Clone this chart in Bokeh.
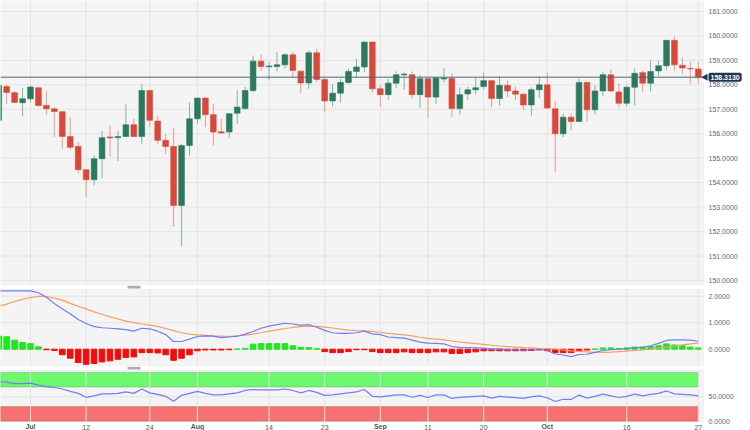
import math
from bokeh.plotting import figure
from bokeh.models import Range1d, BoxAnnotation, ColumnDataSource
from bokeh.core.properties import value
from bokeh.layouts import column
from bokeh.embed import file_html
from bokeh.resources import INLINE

# ---------------- data (daily candles, 27 Jun .. 27 Oct) ----------------
opens = [156.55, 157.93, 157.68, 157.27, 157.43, 157.88, 157.16, 157.02, 156.90, 155.89,
         155.48, 154.53, 154.12, 154.98, 155.87, 155.84, 155.89, 156.37, 155.89, 157.77,
         156.52, 155.73, 155.48, 153.07, 155.52, 156.61, 157.46, 156.78, 156.08, 156.07,
         156.84, 157.03, 157.77, 158.97, 158.74, 158.75, 158.82, 159.23, 158.56, 158.08,
         159.31, 158.22, 157.34, 157.66, 158.10, 158.55, 158.73, 159.75, 157.84, 157.60,
         158.07, 158.41, 158.41, 157.60, 158.25, 157.50, 158.24, 158.26, 157.03, 157.63,
         157.80, 157.93, 158.17, 157.44, 157.98, 157.75, 157.62, 157.18, 157.80, 158.00,
         157.02, 156.00, 156.68, 156.50, 158.10, 156.98, 157.75, 158.41, 157.71, 157.25,
         157.90, 158.50, 158.07, 158.57, 158.78, 159.82, 158.80, 158.67, 158.65]
highs = [158.05, 158.02, 157.75, 157.88, 157.98, 157.90, 157.74, 157.10, 156.92, 156.68,
         155.66, 154.55, 155.12, 156.11, 156.34, 156.13, 157.20, 156.61, 158.04, 157.79,
         156.75, 156.00, 156.25, 155.59, 157.29, 157.48, 157.50, 157.23, 156.61, 156.84,
         157.77, 157.91, 159.20, 159.25, 158.94, 159.34, 159.30, 159.36, 158.58, 159.41,
         159.48, 158.34, 158.04, 158.25, 158.66, 159.07, 159.76, 159.77, 158.00, 158.25,
         158.55, 158.50, 158.55, 158.41, 158.27, 158.32, 158.68, 158.47, 157.90, 157.93,
         158.30, 158.50, 158.19, 158.34, 158.18, 157.94, 157.64, 157.90, 158.34, 158.50,
         157.35, 156.82, 156.82, 158.25, 158.12, 158.00, 158.52, 158.64, 158.06, 157.97,
         158.67, 158.60, 158.99, 158.99, 159.84, 159.96, 159.12, 158.95, 158.94]
lows = [156.30, 157.23, 157.25, 156.71, 157.27, 157.10, 156.78, 155.86, 155.39, 155.35,
        154.37, 153.41, 153.89, 154.19, 155.05, 154.88, 155.87, 155.87, 155.59, 156.27,
        155.59, 155.18, 152.19, 151.40, 155.11, 156.40, 156.27, 155.52, 155.99, 155.82,
        156.40, 156.98, 157.70, 158.56, 158.20, 158.55, 158.67, 158.29, 157.66, 157.84,
        158.11, 156.89, 157.12, 157.28, 158.04, 158.29, 158.51, 157.69, 157.10, 157.40,
        157.86, 157.80, 157.42, 157.06, 156.65, 157.23, 158.10, 156.68, 156.78, 157.40,
        157.63, 157.80, 157.09, 157.15, 157.50, 157.38, 156.98, 156.74, 157.46, 157.03,
        154.42, 155.86, 156.14, 156.48, 156.50, 156.78, 157.55, 157.70, 157.09, 157.10,
        157.15, 157.71, 157.73, 158.37, 158.62, 158.59, 158.46, 158.06, 158.06]
closes = [157.98, 157.69, 157.28, 157.43, 157.91, 157.16, 157.02, 156.91, 155.89, 155.45,
          154.53, 154.12, 154.98, 155.84, 155.83, 155.89, 156.37, 155.89, 157.77, 156.55,
          155.73, 155.48, 153.07, 155.52, 156.61, 157.46, 156.78, 156.07, 156.03, 156.82,
          157.09, 157.77, 158.97, 158.75, 158.77, 158.82, 159.23, 158.59, 158.08, 159.31,
          158.22, 157.34, 157.66, 158.10, 158.55, 158.73, 159.75, 157.84, 157.60, 158.07,
          158.41, 158.44, 157.60, 158.25, 157.50, 158.28, 158.28, 157.03, 157.60, 157.80,
          157.88, 158.17, 157.44, 157.98, 157.75, 157.62, 157.18, 157.80, 158.00, 157.05,
          156.00, 156.68, 156.50, 158.10, 156.98, 157.75, 158.41, 157.75, 157.25, 157.90,
          158.47, 158.07, 158.55, 158.78, 159.82, 158.82, 158.69, 158.65, 158.313]
last_price = 158.313

macd = [2.20, 2.20, 2.20, 2.20, 2.20, 2.13, 1.96, 1.72, 1.52, 1.34,
        1.12, 0.97, 0.85, 0.81, 0.79, 0.77, 0.74, 0.68, 0.79, 0.77,
        0.68, 0.55, 0.29, 0.29, 0.38, 0.48, 0.50, 0.49, 0.44, 0.46,
        0.49, 0.57, 0.67, 0.79, 0.87, 0.93, 0.98, 0.95, 0.90, 0.93,
        0.83, 0.71, 0.62, 0.60, 0.60, 0.62, 0.68, 0.58, 0.55, 0.46,
        0.44, 0.42, 0.34, 0.27, 0.23, 0.22, 0.20, 0.10, 0.07, 0.06,
        0.05, 0.04, 0.00, 0.01, -0.02, -0.03, -0.04, -0.03, -0.02, -0.05,
        -0.18, -0.22, -0.28, -0.20, -0.19, -0.12, -0.05, -0.02, 0.00, 0.02,
        0.05, 0.08, 0.13, 0.22, 0.33, 0.35, 0.35, 0.34, 0.30]
signal = [1.62, 1.70, 1.80, 1.88, 1.95, 1.99, 1.99, 1.93, 1.85, 1.73,
          1.62, 1.52, 1.41, 1.32, 1.22, 1.14, 1.06, 1.00, 0.95, 0.91,
          0.86, 0.78, 0.70, 0.62, 0.57, 0.54, 0.52, 0.50, 0.49, 0.48,
          0.50, 0.53, 0.57, 0.62, 0.68, 0.73, 0.78, 0.82, 0.85, 0.87,
          0.86, 0.83, 0.80, 0.76, 0.72, 0.70, 0.69, 0.67, 0.64, 0.60,
          0.57, 0.54, 0.50, 0.45, 0.41, 0.38, 0.35, 0.31, 0.27, 0.24,
          0.21, 0.18, 0.15, 0.12, 0.10, 0.08, 0.06, 0.05, 0.03, 0.02,
          0.00, -0.03, -0.06, -0.08, -0.10, -0.12, -0.12, -0.11, -0.09, -0.07,
          -0.05, -0.03, 0.00, 0.04, 0.08, 0.12, 0.16, 0.20, 0.23]
hist = [0.50, 0.47, 0.34, 0.25, 0.21, 0.09, -0.02, -0.05, -0.21, -0.34,
        -0.50, -0.57, -0.54, -0.48, -0.44, -0.38, -0.31, -0.29, -0.13, -0.13,
        -0.14, -0.21, -0.42, -0.34, -0.21, -0.06, -0.03, -0.03, -0.03, -0.02,
        0.00, 0.03, 0.19, 0.21, 0.21, 0.21, 0.21, 0.13, 0.06, 0.06,
        0.02, -0.09, -0.13, -0.13, -0.09, -0.02, -0.02, -0.09, -0.13, -0.13,
        -0.13, -0.10, -0.13, -0.13, -0.13, -0.10, -0.10, -0.16, -0.16, -0.13,
        -0.10, -0.06, -0.06, -0.06, -0.06, -0.06, -0.06, -0.05, -0.02, -0.06,
        -0.13, -0.13, -0.13, -0.05, -0.03, 0.00, 0.05, 0.05, 0.02, 0.05,
        0.08, 0.08, 0.10, 0.13, 0.20, 0.16, 0.13, 0.08, 0.05]
rsi = [81, 80, 77, 77, 78, 74, 71, 69, 66, 61,
       57, 49, 52, 56, 56, 57, 60, 57, 66, 58,
       55, 51, 41, 53, 57, 61, 57, 54, 54, 56,
       58, 63, 65, 64, 64, 64, 66, 63, 58, 63,
       59, 53, 54, 56, 58, 60, 65, 51, 50, 52,
       54, 54, 49, 53, 48.6, 54, 54, 46.6, 49, 50,
       51, 52, 47.3, 51, 49.5, 48.5, 46.6, 50, 52, 48,
       40.4, 45, 44.6, 53.5, 47.3, 51, 55.5, 52, 48.6, 51,
       55.5, 52, 55, 57, 62, 56, 55, 54, 52]

date_tick_index = [4, 11, 19, 25, 34, 41, 48, 54, 61, 69, 79, 88]
date_tick_labels = ["Jul", "12", "24", "Aug", "14", "23", "Sep", "11", "20", "Oct", "16", "27"]
month_labels = {"Jul", "Aug", "Sep", "Oct"}
price_ticks = [150, 151, 152, 153, 154, 155, 156, 157, 158, 159, 160, 161]
macd_ticks = [0, 1, 2]
rsi_ticks = [0, 50]
rsi_upper, rsi_lower = 70, 30

# ---------------- styling / layout helpers ----------------
UP, DOWN = "#2b7a5f", "#d8493b"
UP_WICK, DOWN_WICK = "#7fb5a1", "#eb9990"
BG = "#f4f4f4"
GRID = "#e4e4e4"
OUTLINE = "#d3d9e4"
FONT = "Liberation Sans"
LABEL_COLOR = "#666666"
W = 750
PX_PER_BAR = 7.95
X0 = 0.226          # data x at the left page edge


def X(px):          # page pixel -> bar index
    return X0 + px / PX_PER_BAR


PANEL_RIGHT = X(703)
LABEL_X = X(708)


def Y1(py):         # main panel: page pixel -> price
    return 161.45 - py / 24.45


def Y2(py):         # MACD panel
    return (348.7 - py) / 26.5


def Y3(py):         # RSI panel
    return 100 - (py - 371.9) / 0.488


xr = Range1d(X(0), X(W))


def make_fig(top_px, bottom_px, yf):
    p = figure(frame_width=W, frame_height=bottom_px - top_px, x_range=xr,
               y_range=Range1d(yf(bottom_px), yf(top_px)),
               output_backend="svg", toolbar_location=None,
               x_axis_location=None, y_axis_location=None,
               min_border_left=0, min_border_right=0, min_border_top=0,
               min_border_bottom=0, background_fill_color="white",
               border_fill_color="white", outline_line_color=None)
    p.grid.visible = False
    return p


def panel(p, top, bottom):
    p.add_layout(BoxAnnotation(left=X(-2), right=PANEL_RIGHT, top=top, bottom=bottom,
                               fill_color=BG, fill_alpha=1, line_color=OUTLINE,
                               line_width=1, level="underlay"))


def grid(p, yticks, top, bottom):
    p.segment(x0=date_tick_index, x1=date_tick_index,
              y0=[bottom] * len(date_tick_index), y1=[top] * len(date_tick_index),
              line_color=GRID, line_width=1)
    p.segment(x0=[X(0)] * len(yticks), x1=[PANEL_RIGHT] * len(yticks),
              y0=yticks, y1=yticks, line_color=GRID, line_width=1)


def right_labels(p, ticks):
    p.text(x=[LABEL_X] * len(ticks), y=ticks, text=[f"{t:.4f}" for t in ticks],
           text_font=value(FONT), text_font_size="7px", text_color=LABEL_COLOR,
           text_align="left", text_baseline="middle")


def handle(p, y_top, y_bottom):
    p.add_layout(BoxAnnotation(left=X(127), right=X(140), top=y_top, bottom=y_bottom,
                               fill_color="#acacac", fill_alpha=1, line_color=None,
                               level="underlay"))


idx = list(range(len(opens)))
up = [c >= o for o, c in zip(opens, closes)]
src = ColumnDataSource(dict(
    x=idx, o=opens, h=highs, l=lows, c=closes,
    top=[max(o, c) for o, c in zip(opens, closes)],
    bot=[min(o, c) for o, c in zip(opens, closes)],
    col=[UP if u else DOWN for u in up],
    wcol=[UP_WICK if u else DOWN_WICK for u in up],
))

# ---------------- main candlestick panel (page y 0..285) ----------------
p1 = make_fig(0, 285, Y1)
panel(p1, Y1(-2), Y1(284))
grid(p1, price_ticks, Y1(-2), Y1(284))
p1.segment(x0="x", y0="l", x1="x", y1="h", source=src, line_color="wcol", line_width=1)
p1.vbar(x="x", width=0.72, top="top", bottom="bot", source=src,
        fill_color="col", line_color="col", line_width=0.6)
p1.segment(x0=[X(0)], x1=[PANEL_RIGHT], y0=[last_price], y1=[last_price],
           line_color="#56657e", line_width=1)
right_labels(p1, price_ticks)
p1.scatter(x=[X(705)], y=[last_price], marker="triangle", size=7, angle=math.pi / 2,
           fill_color="#1e3657", line_color=None)
p1.text(x=[LABEL_X], y=[last_price], text=[f"{last_price:.4f}"],
        text_font=value(FONT), text_font_size="7px", text_font_style="bold",
        text_color="white", text_align="left", text_baseline="middle",
        background_fill_color="#1e3657", padding=2, border_radius=2)

# ---------------- MACD panel (page y 285..366) ----------------
p2 = make_fig(285, 366, Y2)
panel(p2, Y2(289), Y2(365))
handle(p2, Y2(285), Y2(288))
grid(p2, macd_ticks, Y2(289), Y2(365))
hsrc = ColumnDataSource(dict(x=idx, h=hist,
                             col=["#1ee81e" if v >= 0 else "#f40c0c" for v in hist]))
p2.vbar(x="x", width=0.7, top="h", bottom=0, source=hsrc,
        fill_color="col", line_color="col", line_width=1)
p2.line(idx, signal, line_color="#f5a062", line_width=1.2)
p2.line(idx, macd, line_color="#6e7ff6", line_width=1.2)
right_labels(p2, macd_ticks)

# ---------------- RSI panel (page y 366..430) ----------------
p3 = make_fig(366, 430, Y3)
panel(p3, Y3(370), Y3(421.5))
handle(p3, Y3(366.3), Y3(369))
grid(p3, [50], Y3(370), Y3(421.5))
p3.add_layout(BoxAnnotation(left=X(-2), right=88, bottom=rsi_upper, top=100,
                            fill_color="#6cf86c", fill_alpha=1,
                            line_color="#5c6a5c", line_width=1, level="underlay"))
p3.add_layout(BoxAnnotation(left=X(-2), right=88, bottom=0, top=rsi_lower,
                            fill_color="#f87171", fill_alpha=1,
                            line_color="#6a5c5c", line_width=1, level="underlay"))
p3.line(idx, rsi, line_color="#6e7ff6", line_width=1.2)
right_labels(p3, rsi_ticks)
p3.text(x=date_tick_index, y=[Y3(429.6)] * len(date_tick_index), text=date_tick_labels,
        text_font=value(FONT), text_font_size="7px",
        text_font_style=["bold" if t in month_labels else "normal" for t in date_tick_labels],
        text_color="#555555", text_align="center", text_baseline="bottom")

layout = column(p1, p2, p3, spacing=0)
open("out.html", "w").write(file_html(layout, INLINE))
